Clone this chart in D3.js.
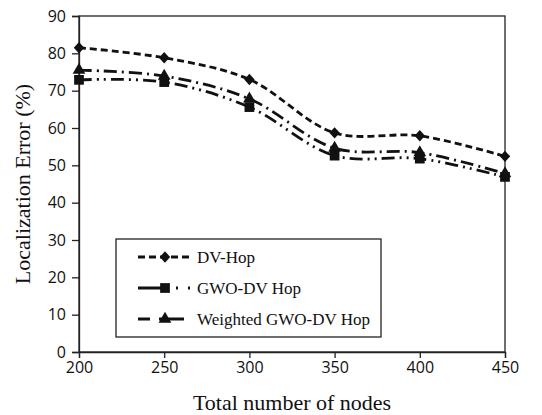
<!DOCTYPE html>
<html>
<head>
<meta charset="utf-8">
<script src="https://cdn.jsdelivr.net/npm/d3@7"></script>
<style>
  body { margin: 0; background: #fff; }
  svg { display: block; }
</style>
</head>
<body>
<div id="chart"></div>
<script>
const nodes = [200, 250, 300, 350, 400, 450];
const dvHop = [81.5, 78.8, 73.0, 58.7, 57.9, 52.4];
const gwoDvHop = [72.9, 72.3, 65.6, 52.6, 51.8, 46.9];
const weightedGwo = [75.5, 73.9, 67.8, 54.6, 53.4, 47.8];
const yTicks = [0, 10, 20, 30, 40, 50, 60, 70, 80, 90];

// squat diamond like the excel marker
const diamond = {
  draw(ctx, size) {
    const r = Math.sqrt(size / 2);
    ctx.moveTo(0, -r * 1.1);
    ctx.lineTo(r, 0);
    ctx.lineTo(0, r * 1.1);
    ctx.lineTo(-r, 0);
    ctx.closePath();
  }
};

const series = [
  { name: "DV-Hop", values: dvHop, dash: "7,4", legendDash: "7,4", symbol: diamond, size: 54 },
  { name: "GWO-DV Hop", values: gwoDvHop, dash: "13,5,2,5,2,5", legendDash: "24,14,2,10,2,100", symbol: d3.symbolSquare, size: 95 },
  { name: "Weighted GWO-DV Hop", values: weightedGwo, dash: "13,5,2,5", legendDash: "12,9,25,100", symbol: d3.symbolTriangle, size: 70 }
];

const width = 542, height = 415;
const margin = { top: 16, right: 37, bottom: 63, left: 79 };

const svg = d3.select("#chart").append("svg")
  .attr("width", width)
  .attr("height", height);

const x = d3.scaleLinear().domain([200, 450]).range([margin.left, width - margin.right]);
const y = d3.scaleLinear().domain([0, 90]).range([height - margin.bottom, margin.top]);

// frame
svg.append("rect")
  .attr("x", x(200)).attr("y", y(90))
  .attr("width", x(450) - x(200)).attr("height", y(0) - y(90))
  .attr("fill", "none").attr("stroke", "#222").attr("stroke-width", 1.3);

svg.append("g")
  .attr("transform", `translate(0,${y(0)})`)
  .call(d3.axisBottom(x).tickValues(nodes).tickSize(6).tickPadding(4))
  .call(g => g.selectAll("path,line").attr("stroke", "#222").attr("stroke-width", 1.3))
  .call(g => g.selectAll("text").attr("font-family", "Open Sans").attr("font-size", 16).attr("fill", "#111"));

svg.append("g")
  .attr("transform", `translate(${x(200)},0)`)
  .call(d3.axisLeft(y).tickValues(yTicks).tickSize(7).tickPadding(6))
  .call(g => g.selectAll("path,line").attr("stroke", "#222").attr("stroke-width", 1.3))
  .call(g => g.selectAll("text").attr("font-family", "Open Sans").attr("font-size", 16).attr("fill", "#111"));

// axis titles
svg.append("text")
  .attr("x", (x(200) + x(450)) / 2).attr("y", 410)
  .attr("text-anchor", "middle")
  .attr("font-family", "Liberation Serif").attr("font-size", 22).attr("fill", "#111")
  .text("Total number of nodes");

svg.append("text")
  .attr("transform", `translate(30,${(y(0) + y(90)) / 2}) rotate(-90)`)
  .attr("text-anchor", "middle")
  .attr("font-family", "Liberation Serif").attr("font-size", 22).attr("fill", "#111")
  .text("Localization Error (%)");

const line = d3.line()
  .x((d, i) => x(nodes[i]))
  .y(d => y(d))
  .curve(d3.curveCatmullRom.alpha(0.5));

series.forEach(s => {
  svg.append("path")
    .datum(s.values)
    .attr("d", line)
    .attr("fill", "none")
    .attr("stroke", "#111")
    .attr("stroke-width", 2.8)
    .attr("stroke-dasharray", s.dash);

  svg.append("g")
    .selectAll("path")
    .data(s.values)
    .join("path")
    .attr("transform", (d, i) => `translate(${x(nodes[i])},${y(d)})`)
    .attr("d", d3.symbol().type(s.symbol).size(s.size))
    .attr("fill", "#111");
});

// legend
const legend = svg.append("g").attr("transform", "translate(116,239)");
legend.append("rect")
  .attr("width", 265).attr("height", 98)
  .attr("fill", "#fff").attr("stroke", "#222").attr("stroke-width", 1.3);

series.forEach((s, i) => {
  const ly = 18 + i * 31;
  legend.append("line")
    .attr("x1", 22).attr("x2", 76).attr("y1", ly).attr("y2", ly)
    .attr("stroke", "#111").attr("stroke-width", 2.8)
    .attr("stroke-dasharray", s.legendDash);
  legend.append("path")
    .attr("transform", `translate(49,${ly})`)
    .attr("d", d3.symbol().type(s.symbol).size(s.size))
    .attr("fill", "#111");
  legend.append("text")
    .attr("x", 81).attr("y", ly + 5.5)
    .attr("font-family", "Liberation Serif").attr("font-size", 17).attr("fill", "#111")
    .text(s.name);
});
</script>
</body>
</html>
